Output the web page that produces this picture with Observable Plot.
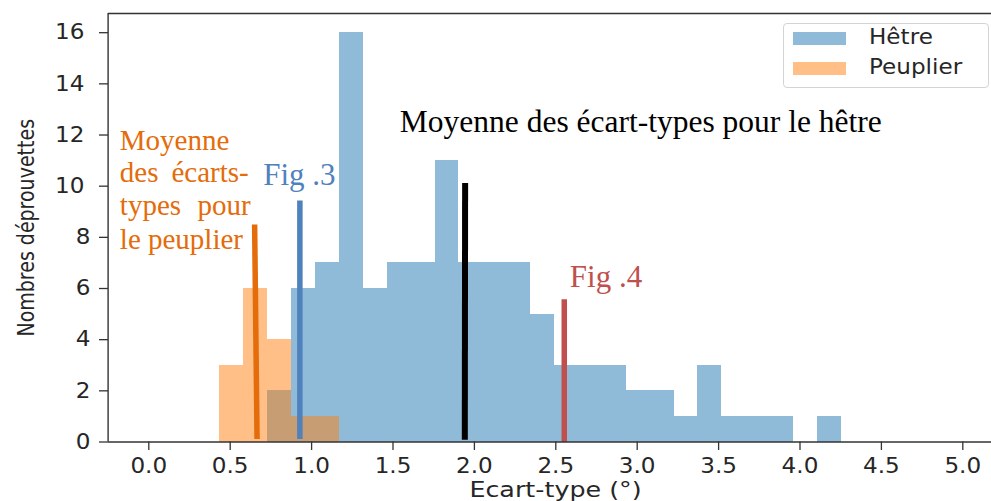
<!DOCTYPE html>
<html>
<head>
<meta charset="utf-8">
<script src="https://cdn.jsdelivr.net/npm/d3@7"></script>
<script src="https://cdn.jsdelivr.net/npm/@observablehq/plot@0.6"></script>
<style>
  body { margin: 0; background: #fff; }
  #wrap { position: relative; width: 991px; height: 501px; overflow: hidden; background: #fff; }
  #wrap svg { display: block; }
  .legend { position: absolute; left: 783px; top: 23px; width: 206px; height: 65px; box-sizing: border-box;
            border: 1px solid #d4d4d4; border-radius: 4px; background: rgba(255,255,255,0.85);
            font-family: "DejaVu Sans", sans-serif; font-size: 21px; line-height: 21px; color: #262626; }
  .legend .sw { position: absolute; left: 9px; width: 53px; height: 13.5px; }
  .legend .lb { position: absolute; left: 85px; white-space: nowrap; transform: scaleX(1.1); transform-origin: left center; }
</style>
</head>
<body>
<div id="wrap"></div>
<script>
// ---- data ----
const seriesNames = ["Hêtre", "Peuplier"];

const xTicks = [0, 0.5, 1, 1.5, 2, 2.5, 3, 3.5, 4, 4.5, 5];
const yTicksLow = [0, 2, 4, 6, 8];
const yTicksHigh = [10, 12, 14, 16];

// Hêtre histogram: bin edges and counts
const hetreEdges = [0.731, 0.878, 1.025, 1.171, 1.318, 1.465, 1.612, 1.759, 1.905, 2.052, 2.199, 2.346, 2.493,
                    2.639, 2.786, 2.933, 3.080, 3.227, 3.373, 3.520, 3.667, 3.814, 3.961, 4.107, 4.254];
const hetreCounts = [2, 6, 7, 16, 6, 7, 7, 11, 7, 7, 7, 5, 3, 3, 3, 2, 2, 1, 3, 1, 1, 1, 0, 1];

// Peuplier histogram
const peuplierEdges = [0.437, 0.584, 0.731, 0.878, 1.025, 1.171];
const peuplierCounts = [3, 6, 4, 1, 1];

// reference vertical lines (mean peuplier, Fig .3, mean hêtre, Fig .4)
const refNames = ["Moyenne peuplier", "Fig .3", "Moyenne hêtre", "Fig .4"];
const refXBottom = [0.665, 0.928, 1.941, 2.552];
const refXTop = [0.650, 0.928, 1.943, 2.552];
const refYBottom = [0.12, 0.12, 0.09, 0];
const refYTop = [8.5, 9.44, 10.12, 5.58];

// annotations
const noteText = ["Moyenne des écart-types pour le hêtre", "Fig .3", "Fig .4",
                  "Moyenne", "des", "écarts-", "types", "pour", "le peuplier"];
const noteX = [1.542, 0.703, 2.586, -0.178, -0.178, 0.614, -0.178, 0.625, -0.178];
const noteY = [12.11, 10.03, 6.05, 11.40, 10.16, 10.16, 8.86, 8.86, 7.55];
const noteEndAnchored = [false, false, false, false, false, true, false, true, false];

// ---- build tables ----
const hetreBins = hetreCounts.map((c, i) => ({x1: hetreEdges[i], x2: hetreEdges[i + 1], y: c}));
const peuplierBins = peuplierCounts.map((c, i) => ({x1: peuplierEdges[i], x2: peuplierEdges[i + 1], y: c}));
const refLines = refNames.map((n, i) => ({name: n, xb: refXBottom[i], xt: refXTop[i], yb: refYBottom[i], yt: refYTop[i]}));
const refColors = {"Moyenne peuplier": "#e46c0a", "Fig .3": "#4f81bd", "Moyenne hêtre": "#000000", "Fig .4": "#c0504d"};
const refWidths = {"Moyenne peuplier": 5.5, "Fig .3": 5.5, "Moyenne hêtre": 6, "Fig .4": 5.5};
const notes = noteText.map((t, i) => ({text: t, x: noteX[i], y: noteY[i], end: noteEndAnchored[i]}));
const noteColor = t => t.startsWith("Moyenne des écart-types") ? "#000000" : t === "Fig .3" ? "#4f81bd" : t === "Fig .4" ? "#c0504d" : "#e46c0a";
const noteSize = t => (t === "Fig .3" || t === "Fig .4") ? 31 : t.startsWith("Moyenne des écart-types") ? 31.5 : 29;

const X0 = -0.25, X1 = 5.25, Y1 = 16.75;
const axisColor = "#262626";
const serif = "'Liberation Serif', 'Times New Roman', serif";
const yTitle = "Nombres déprouvettes";
const xTitle = "Ecart-type (°)";

const chart = Plot.plot({
  width: 991,
  height: 501,
  marginTop: 13,
  marginBottom: 59.5,
  marginLeft: 108,
  marginRight: 0,
  style: {fontFamily: "'DejaVu Sans', sans-serif", fontSize: "21px", color: axisColor, background: "#fff", overflow: "hidden"},
  x: {domain: [X0, X1], range: [107.6, 1003], axis: null},
  y: {domain: [0, Y1], range: [441.5, 13], axis: null},
  marks: [
    Plot.rect(hetreBins, {x1: "x1", x2: "x2", y1: d => 0, y2: "y", fill: "#1f77b4", fillOpacity: 0.5, shapeRendering: "crispEdges"}),
    Plot.rect(peuplierBins, {x1: "x1", x2: "x2", y1: d => 0, y2: "y", fill: "#ff7f0e", fillOpacity: 0.5, shapeRendering: "crispEdges"}),
    Plot.link(refLines, {x1: "xb", y1: "yb", x2: "xt", y2: "yt",
      stroke: d => refColors[d.name], strokeWidth: d => refWidths[d.name], strokeLinecap: "butt"}),
    // spines
    Plot.ruleY([0], {stroke: "#333", strokeWidth: 1.4}),
    Plot.ruleY([Y1], {stroke: "#333", strokeWidth: 1.4}),
    Plot.ruleX([X0], {stroke: "#333", strokeWidth: 1.4}),
    // axes
    Plot.axisX(xTicks, {tickSize: 8.5, tickPadding: 7.5, tickFormat: d3.format(".1f"), fontSize: 21,
      color: axisColor, stroke: "#333", strokeWidth: 1.3, label: null}),
    Plot.axisY(yTicksLow, {tickSize: 9, tickPadding: 9, fontSize: 21, color: axisColor, stroke: "#333", strokeWidth: 1.3, label: null}),
    Plot.axisY(yTicksHigh, {tickSize: 9, tickPadding: 15, fontSize: 21, color: axisColor, stroke: "#333", strokeWidth: 1.3, label: null}),
    // axis titles
    Plot.text([yTitle], {frameAnchor: "left", textAnchor: "middle", rotate: -90, dx: -75, lineAnchor: "bottom",
      fontSize: 19, fill: axisColor}),
    Plot.text([xTitle], {frameAnchor: "bottom", textAnchor: "middle", dx: 5.5, dy: 54.5, lineAnchor: "bottom",
      fontSize: 21.5, fill: axisColor}),
    // annotations
    Plot.text(notes.filter(d => !d.end), {x: "x", y: "y", text: "text", textAnchor: "start", lineAnchor: "bottom",
      fill: d => noteColor(d.text), fontSize: d => noteSize(d.text), fontFamily: serif}),
    Plot.text(notes.filter(d => d.end), {x: "x", y: "y", text: "text", textAnchor: "end", lineAnchor: "bottom",
      fill: d => noteColor(d.text), fontSize: d => noteSize(d.text), fontFamily: serif})
  ]
});

const wrap = document.getElementById("wrap");
wrap.appendChild(chart);

// the reference image is horizontally stretched: mimic it on the sans-serif axis texts
chart.querySelectorAll("text").forEach(t => {
  const label = t.parentNode && t.parentNode.getAttribute && t.parentNode.getAttribute("aria-label");
  const isTick = label && label.includes("tick label");
  if (isTick || t.textContent === xTitle) {
    const L = t.getComputedTextLength();
    t.setAttribute("textLength", (L * (isTick ? 1.1 : 1.18)).toFixed(2));
    t.setAttribute("lengthAdjust", "spacingAndGlyphs");
  } else if (t.textContent === yTitle) {
    const tr = t.getAttribute("transform") || "";
    t.setAttribute("transform", tr + " scale(1,1.2)");
  }
});

// legend (inside the plotting area, top right)
const legend = document.createElement("div");
legend.className = "legend";
const legendColors = ["rgba(31,119,180,0.5)", "rgba(255,127,14,0.5)"];
seriesNames.forEach((name, i) => {
  const sw = document.createElement("div");
  sw.className = "sw";
  sw.style.top = (7.7 + 30 * i) + "px";
  sw.style.background = legendColors[i];
  const lb = document.createElement("span");
  lb.className = "lb";
  lb.style.top = (3.2 + 30 * i) + "px";
  lb.textContent = name;
  legend.appendChild(sw);
  legend.appendChild(lb);
});
wrap.appendChild(legend);
</script>
</body>
</html>
